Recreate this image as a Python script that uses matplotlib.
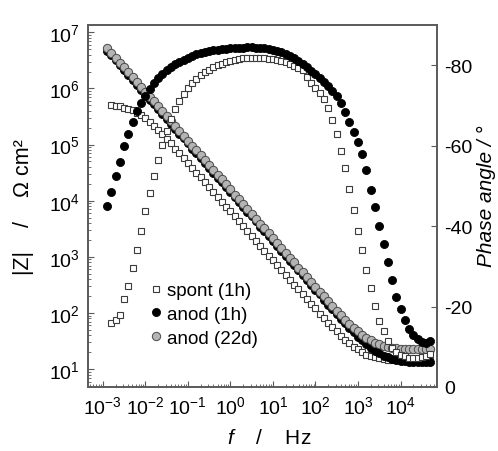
import numpy as np
import matplotlib
matplotlib.use('Agg')
import matplotlib.pyplot as plt
from matplotlib.ticker import LogLocator, NullFormatter

plt.rcParams['font.family'] = ['Liberation Sans', 'DejaVu Sans']
plt.rcParams['mathtext.fontset'] = 'custom'
plt.rcParams['mathtext.rm'] = 'Liberation Sans'
plt.rcParams['mathtext.it'] = 'Liberation Sans:italic'
plt.rcParams['mathtext.default'] = 'regular'

# frequency sweep, log10(f / Hz)
log_f = [-2.9, -2.8, -2.7, -2.6, -2.5, -2.4, -2.3, -2.2, -2.1, -2.0,
         -1.9, -1.8, -1.7, -1.6, -1.5, -1.4, -1.3, -1.2, -1.1, -1.0,
         -0.9, -0.8, -0.7, -0.6, -0.5, -0.4, -0.3, -0.2, -0.1, 0.0,
         0.1, 0.2, 0.3, 0.4, 0.5, 0.6, 0.7, 0.8, 0.9, 1.0,
         1.1, 1.2, 1.3, 1.4, 1.5, 1.6, 1.7, 1.8, 1.9, 2.0,
         2.1, 2.2, 2.3, 2.4, 2.5, 2.6, 2.7, 2.8, 2.9, 3.0,
         3.1, 3.2, 3.3, 3.4, 3.5, 3.6, 3.7, 3.8, 3.9, 4.0,
         4.1, 4.2, 4.3, 4.4, 4.5, 4.6, 4.7]

# log10(|Z| / Ohm cm2)
logz_spont = [5.70, 5.69, 5.68, 5.66, 5.64, 5.61, 5.57, 5.52, 5.47, 5.40,
              5.33, 5.26, 5.18, 5.10, 5.02, 4.93, 4.85, 4.76, 4.68, 4.59,
              4.50, 4.42, 4.33, 4.24, 4.16, 4.07, 3.98, 3.89, 3.81, 3.72,
              3.63, 3.55, 3.46, 3.37, 3.29, 3.20, 3.11, 3.02, 2.94, 2.85,
              2.76, 2.68, 2.59, 2.50, 2.42, 2.33, 2.25, 2.16, 2.08, 1.99,
              1.91, 1.83, 1.75, 1.67, 1.59, 1.52, 1.46, 1.40, 1.35, 1.30,
              1.26, 1.24, 1.21, 1.20, 1.18, 1.17, 1.17, 1.16, 1.16, 1.15,
              1.15, 1.15, 1.15, 1.15, 1.15, 1.15]
logz_anod1h = [6.67, 6.59, 6.50, 6.41, 6.33, 6.24, 6.15, 6.07, 5.98, 5.89,
               5.80, 5.72, 5.63, 5.54, 5.46, 5.37, 5.28, 5.19, 5.11, 5.02,
               4.93, 4.85, 4.76, 4.67, 4.59, 4.50, 4.41, 4.33, 4.24, 4.15,
               4.06, 3.98, 3.89, 3.80, 3.72, 3.63, 3.54, 3.46, 3.37, 3.28,
               3.19, 3.11, 3.02, 2.93, 2.85, 2.76, 2.67, 2.59, 2.50, 2.41,
               2.33, 2.24, 2.15, 2.07, 1.98, 1.90, 1.82, 1.74, 1.66, 1.58,
               1.51, 1.44, 1.38, 1.32, 1.28, 1.24, 1.21, 1.18, 1.17, 1.15,
               1.14, 1.13, 1.13, 1.12, 1.12, 1.12, 1.12]
logz_anod22d = [6.72, 6.64, 6.55, 6.46, 6.38, 6.29, 6.20, 6.12, 6.03, 5.94,
                5.85, 5.77, 5.68, 5.59, 5.51, 5.42, 5.33, 5.24, 5.16, 5.07,
                4.98, 4.90, 4.81, 4.72, 4.64, 4.55, 4.46, 4.38, 4.29, 4.20,
                4.11, 4.03, 3.94, 3.85, 3.77, 3.68, 3.59, 3.51, 3.42, 3.33,
                3.24, 3.16, 3.07, 2.98, 2.90, 2.81, 2.73, 2.64, 2.55, 2.47,
                2.38, 2.30, 2.21, 2.13, 2.04, 1.96, 1.88, 1.81, 1.73, 1.67,
                1.61, 1.55, 1.51, 1.47, 1.44, 1.41, 1.39, 1.38, 1.37, 1.36,
                1.36, 1.35, 1.35, 1.35, 1.35, 1.35, 1.35]

# phase angle / deg
phase_spont = [-15.8, -16.6, -17.8, -21.8, -25.2, -29.7, -34.0, -38.8, -43.8, -48.3,
               -52.5, -56.4, -60.2, -63.6, -66.6, -69.2, -71.2, -72.9, -74.3, -75.5,
               -76.6, -77.5, -78.3, -78.9, -79.5, -80.0, -80.4, -80.8, -81.1, -81.4,
               -81.6, -81.7, -81.8, -81.8, -81.8, -81.8, -81.7, -81.6, -81.5, -81.3,
               -81.0, -80.7, -80.3, -79.8, -79.2, -78.7, -77.0, -75.5, -74.4, -73.0,
               -71.5, -69.3, -66.3, -63.0, -58.7, -54.5, -49.3, -44.0, -38.8, -34.0,
               -29.0, -24.5, -20.2, -16.3, -13.8, -11.5, -9.8, -8.7, -8.0, -7.6,
               -7.3, -7.2, -7.2, -7.4, -7.8, -8.3]
phase_anod1h = [-45.0, -48.5, -52.5, -56.0, -60.0, -63.0, -66.0, -68.5, -70.5, -72.3,
                -74.0, -75.5, -76.8, -77.8, -78.8, -79.6, -80.3, -80.9, -81.4, -81.9,
                -82.3, -82.7, -83.0, -83.3, -83.5, -83.7, -83.9, -84.0, -84.1, -84.2,
                -84.3, -84.4, -84.4, -84.5, -84.5, -84.4, -84.4, -84.3, -84.1, -83.9,
                -83.6, -83.2, -82.8, -82.3, -81.7, -81.0, -80.3, -79.5, -78.6, -77.7,
                -76.7, -75.8, -74.8, -73.6, -72.4, -70.6, -68.3, -66.0, -63.5, -61.0,
                -58.0, -54.0, -49.0, -44.8, -40.0, -35.5, -31.0, -26.5, -22.5, -19.5,
                -16.7, -14.5, -13.0, -12.0, -11.1, -10.9, -11.4]

labels = ['spont (1h)', 'anod (1h)', 'anod (22d)']
x_ticks = [1e-3, 1e-2, 1e-1, 1e0, 1e1, 1e2, 1e3, 1e4]
z_ticks = [1e1, 1e2, 1e3, 1e4, 1e5, 1e6, 1e7]
phase_ticks = [0, -20, -40, -60, -80]

f = 10 ** np.array(log_f)
f_spont = f[1:]

fig = plt.figure(figsize=(4.98, 4.52), dpi=100)
ax = fig.add_axes([88 / 498, 64 / 452, 349 / 498, 362 / 452])
ax2 = ax.twinx()

sq = dict(ls='none', marker='s', ms=5, mfc='white', mec='#3c3c3c', mew=0.8)
bk = dict(ls='none', marker='o', ms=5.8, mfc='black', mec='black', mew=0.6)
gr = dict(ls='none', marker='o', ms=6, mfc='#b4b4b4', mec='#4a4a4a', mew=0.7)

ax.plot(f_spont, 10 ** np.array(logz_spont), label=labels[0], **sq)
ax.plot(f, 10 ** np.array(logz_anod1h), label=labels[1], **bk)
ax.plot(f, 10 ** np.array(logz_anod22d), label=labels[2], **gr)

ax2.plot(f_spont, phase_spont, **sq)
ax2.plot(f, phase_anod1h, **bk)

ax.set_xscale('log')
ax.set_yscale('log')

ax.set_xticks(x_ticks)
ax.xaxis.set_minor_locator(LogLocator(base=10, subs=np.arange(2, 10), numticks=20))
ax.xaxis.set_minor_formatter(NullFormatter())
ax.set_yticks(z_ticks)
ax.yaxis.set_minor_locator(LogLocator(base=10, subs=np.arange(2, 10), numticks=20))
ax.yaxis.set_minor_formatter(NullFormatter())
ax.set_xlim(4.5e-4, 7.2e4)
ax.set_ylim(4.8, 1.35e7)

ax2.set_yticks(phase_ticks)
ax2.set_yticklabels([str(p) for p in phase_ticks])
ax2.set_ylim(0, -90)

spine_c = '#5a5a5a'
for a in (ax, ax2):
    for s in a.spines.values():
        s.set_color(spine_c)
        s.set_linewidth(1.2)
ax.tick_params(which='both', direction='in', colors=spine_c, labelcolor='black',
               labelsize=14, top=False, right=False)
ax.tick_params(which='major', length=4, width=0.8, pad=6)
ax.tick_params(which='minor', length=2, width=0.6)
ax2.tick_params(direction='in', colors=spine_c, labelcolor='black', labelsize=14,
                length=4, width=0.8, pad=5)

ax.set_ylabel('|Z|    /    \u03a9 cm\u00b2', fontsize=15.5)
ax.yaxis.set_label_coords(-0.155, 0.5)
ax2.set_ylabel('Phase angle / \u00b0', fontsize=15, style='italic', rotation=90)
ax2.yaxis.set_label_coords(1.115, 0.53)
ax.set_xlabel(r'$\it{f}$    /    Hz', fontsize=15)
ax.xaxis.set_label_coords(0.52, -0.112)

ax.legend(loc='upper left', bbox_to_anchor=(0.175, 0.29), frameon=False,
          fontsize=13.5, handlelength=0.7, handletextpad=0.25,
          labelspacing=0.35, borderaxespad=0, borderpad=0)

fig.savefig('out.png', dpi=100)
